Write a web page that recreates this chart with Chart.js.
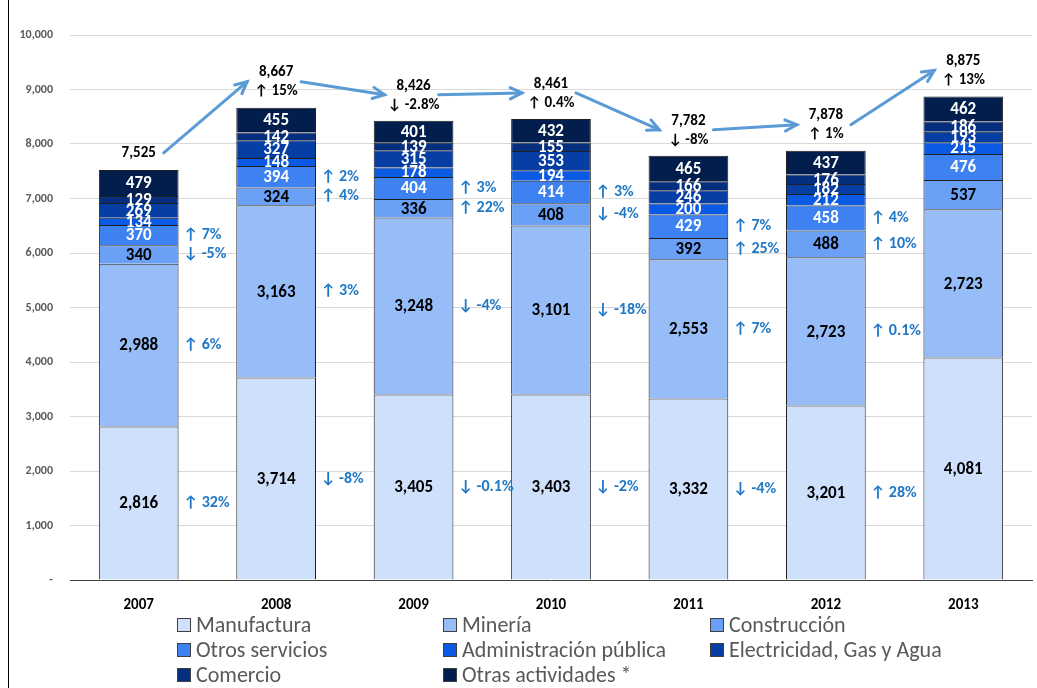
<!DOCTYPE html>
<html>
<head>
<meta charset="utf-8">
<script src="https://cdn.jsdelivr.net/npm/chart.js@4.4.1/dist/chart.umd.min.js"></script>
<style>
  body { margin: 0; background: #fff; }
  #wrap { position: relative; width: 1037px; height: 688px; overflow: hidden; }
  #frame { position: absolute; left: 8px; top: 0; width: 1px; height: 688px; background: #000; }
  #legend {
    position: absolute; left: 177px; top: 612px;
    display: grid; grid-template-columns: 266px 267px auto; grid-auto-rows: 25px;
    font-family: Carlito, Lato, sans-serif; font-size: 22px; color: #595959;
  }
  #legend .item { display: flex; align-items: center; white-space: nowrap; }
  #legend .box { width: 12px; height: 12px; border: 1px solid #404040; margin-right: 5px; }
</style>
</head>
<body>
<div id="wrap">
  <canvas id="empleoChart" width="1037" height="688"></canvas>
  <div id="frame"></div>
  <div id="legend"></div>
</div>
<script>
const years = ["2007", "2008", "2009", "2010", "2011", "2012", "2013"];

const manufactura      = [2816, 3714, 3405, 3403, 3332, 3201, 4081];
const mineria          = [2988, 3163, 3248, 3101, 2553, 2723, 2723];
const construccion     = [340, 324, 336, 408, 392, 488, 537];
const otrosServicios   = [370, 394, 404, 414, 429, 458, 476];
const adminPublica     = [134, 148, 178, 194, 200, 212, 215];
const electricidad     = [269, 327, 315, 353, 246, 182, 193];
const comercio         = [129, 142, 139, 155, 166, 176, 186];
const otrasActividades = [479, 455, 401, 432, 465, 437, 462];

const totals      = [7525, 8667, 8426, 8461, 7782, 7878, 8875];
const totalChange = ["", "↑ 15%", "↓ -2.8%", "↑ 0.4%", "↓ -8%", "↑ 1%", "↑ 13%"];

// variacion anual (entre un año y el siguiente) de los 4 primeros sectores
const manufChange   = ["↑ 32%", "↓ -8%", "↓ -0.1%", "↓ -2%", "↓ -4%", "↑ 28%"];
const mineriaChange = ["↑ 6%", "↑ 3%", "↓ -4%", "↓ -18%", "↑ 7%", "↑ 0.1%"];
const constrChange  = ["↓ -5%", "↑ 4%", "↑ 22%", "↓ -4%", "↑ 25%", "↑ 10%"];
const otrosChange   = ["↑ 7%", "↑ 2%", "↑ 3%", "↑ 3%", "↑ 7%", "↑ 4%"];

const seriesNames = ["Manufactura", "Minería", "Construcción", "Otros servicios",
  "Administración pública", "Electricidad, Gas y Agua", "Comercio", "Otras actividades *"];

const yTickStep = 1000;
const yMax = 10000;

document.addEventListener("DOMContentLoaded", function () {
  const ctx = document.getElementById("empleoChart").getContext("2d");
  const FONT = "Carlito, Lato, sans-serif";

  const seriesValues = [manufactura, mineria, construccion, otrosServicios,
    adminPublica, electricidad, comercio, otrasActividades];
  const colors = ["#cfe0fc", "#97bdf9", "#6aa0f5", "#3d82f0",
    "#0b5ae4", "#073ea3", "#052f7e", "#021e4c"];
  const changes = [manufChange, mineriaChange, constrChange, otrosChange];

  const datasets = seriesValues.map((vals, i) => ({
    label: seriesNames[i],
    data: vals,
    backgroundColor: colors[i],
    borderColor: "#1f1f1f",
    borderWidth: 1,
    barPercentage: 0.58,
    categoryPercentage: 1.0,
  }));

  // leyenda en 3 columnas
  const legendEl = document.getElementById("legend");
  seriesNames.forEach((name, i) => {
    const item = document.createElement("div");
    item.className = "item";
    item.innerHTML = '<span class="box" style="background:' + colors[i] + '"></span>' + name;
    legendEl.appendChild(item);
  });

  const labelsPlugin = {
    id: "labelsPlugin",
    afterDatasetsDraw(chart) {
      const c = chart.ctx;
      c.save();
      c.textAlign = "center";
      c.textBaseline = "middle";

      // valores dentro de cada segmento
      c.font = "bold 17px " + FONT;
      chart.data.datasets.forEach((ds, di) => {
        const meta = chart.getDatasetMeta(di);
        meta.data.forEach((bar, i) => {
          c.fillStyle = di < 3 ? "#000" : "#fff";
          c.fillText(ds.data[i].toLocaleString("en-US"), bar.x, (bar.y + bar.base) / 2 + 1);
        });
      });

      // variaciones entre barras
      c.font = "bold 16px " + FONT;
      c.textAlign = "left";
      c.fillStyle = "#1f78c6";
      changes.forEach((arr, di) => {
        const meta = chart.getDatasetMeta(di);
        arr.forEach((txt, i) => {
          const bar = meta.data[i];
          c.fillText(txt, bar.x + bar.width / 2 + 5, (bar.y + bar.base) / 2);
        });
      });

      // totales y flechas
      const topMeta = chart.getDatasetMeta(chart.data.datasets.length - 1);
      const blocks = [];
      c.font = "bold 15px " + FONT;
      c.textAlign = "center";
      c.fillStyle = "#000";
      topMeta.data.forEach((bar, i) => {
        const top = bar.y;
        if (totalChange[i]) {
          c.fillText(totals[i].toLocaleString("en-US"), bar.x, top - 35);
          c.fillText(totalChange[i], bar.x, top - 16);
          blocks.push({ x: bar.x, y: top - 26 });
        } else {
          c.fillText(totals[i].toLocaleString("en-US"), bar.x, top - 17);
          blocks.push({ x: bar.x, y: top - 17 });
        }
      });

      c.strokeStyle = "#5b9bd5";
      c.lineWidth = 3;
      c.lineCap = "round";
      for (let i = 0; i < blocks.length - 1; i++) {
        const x1 = blocks[i].x + 25, y1 = blocks[i].y;
        const x2 = blocks[i + 1].x - 29, y2 = blocks[i + 1].y;
        const ang = Math.atan2(y2 - y1, x2 - x1);
        c.beginPath();
        c.moveTo(x1, y1);
        c.lineTo(x2, y2);
        c.stroke();
        c.beginPath();
        c.moveTo(x2 - 13 * Math.cos(ang - 0.45), y2 - 13 * Math.sin(ang - 0.45));
        c.lineTo(x2, y2);
        c.lineTo(x2 - 13 * Math.cos(ang + 0.45), y2 - 13 * Math.sin(ang + 0.45));
        c.stroke();
      }
      c.restore();
    },
  };

  new Chart(ctx, {
    type: "bar",
    data: { labels: years, datasets: datasets },
    options: {
      responsive: false,
      animation: false,
      layout: { padding: { top: 35, right: 5, bottom: 78, left: 0 } },
      plugins: {
        legend: { display: false },
        tooltip: { enabled: false },
      },
      scales: {
        x: {
          stacked: true,
          grid: { display: false, drawTicks: false },
          border: { display: true, color: "#404040", width: 1 },
          ticks: { padding: 16, color: "#000", font: { family: FONT, size: 15, weight: "bold" } },
          afterFit: (scale) => { scale.height = 30; },
        },
        y: {
          stacked: true,
          min: 0,
          max: yMax,
          grid: { color: "#d9d9d9", drawTicks: false },
          border: { display: false },
          ticks: {
            stepSize: yTickStep,
            padding: 17,
            color: "#595959",
            font: { family: FONT, size: 12, weight: "bold" },
            callback: (v) => (v === 0 ? "-" : v.toLocaleString("en-US")),
          },
          afterFit: (scale) => { scale.width = 70; },
        },
      },
    },
    plugins: [labelsPlugin],
  });
});
</script>
</body>
</html>
